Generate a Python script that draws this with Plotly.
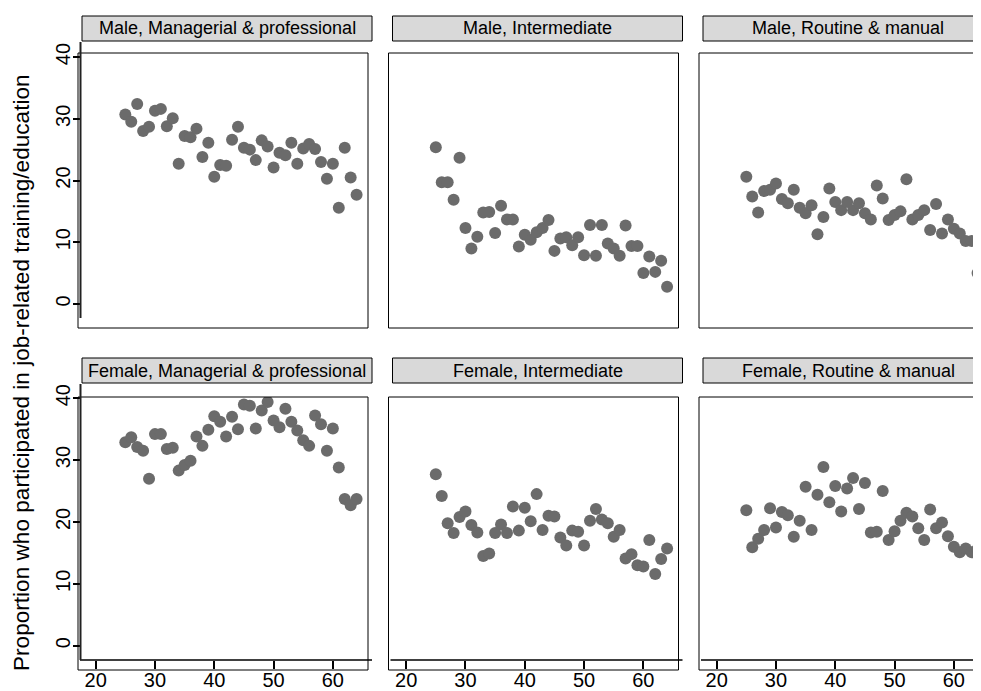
import plotly.graph_objs as go
from plotly.subplots import make_subplots

W, H = 981, 691
OFF = 8  # the page body adds an 8px margin, so the figure is drawn that much smaller

# ages on the x axis, one point per year of age
ages = list(range(25, 65))

male_managerial = [30.7, 29.5, 32.4, 28.0, 28.7, 31.3, 31.6, 28.8, 30.1, 22.7,
                   27.2, 27.0, 28.4, 23.8, 26.1, 20.6, 22.5, 22.4, 26.6, 28.7,
                   25.3, 25.0, 23.3, 26.5, 25.5, 22.1, 24.5, 24.1, 26.1, 22.7,
                   25.2, 25.9, 25.1, 23.0, 20.3, 22.7, 15.6, 25.3, 20.5, 17.7]
male_intermediate = [25.4, 19.7, 19.7, 16.9, 23.7, 12.3, 9.0, 10.9, 14.8, 14.9,
                     11.5, 15.9, 13.7, 13.7, 9.3, 11.2, 10.4, 11.6, 12.3, 13.6,
                     8.6, 10.6, 10.8, 9.5, 10.8, 7.9, 12.8, 7.8, 12.8, 9.8,
                     9.0, 7.8, 12.7, 9.4, 9.4, 5.0, 7.7, 5.2, 7.0, 2.8]
male_routine = [20.6, 17.4, 14.8, 18.3, 18.5, 19.5, 17.0, 16.3, 18.5, 15.6,
                14.7, 16.0, 11.3, 14.1, 18.7, 16.5, 15.2, 16.5, 15.2, 16.3,
                14.7, 13.7, 19.2, 17.1, 13.6, 14.4, 15.0, 20.2, 13.7, 14.4,
                15.2, 12.0, 16.2, 11.4, 13.7, 12.2, 11.4, 10.2, 10.2, 5.0]
female_managerial = [32.9, 33.7, 32.1, 31.5, 27.0, 34.2, 34.2, 31.8, 32.0, 28.3,
                     29.2, 29.9, 33.8, 32.3, 34.9, 37.1, 36.2, 33.8, 37.0, 35.0,
                     39.0, 38.8, 35.1, 38.0, 39.4, 36.4, 35.3, 38.3, 36.2, 34.8,
                     33.2, 32.3, 37.2, 35.8, 31.5, 35.1, 28.8, 23.7, 22.7, 23.7]
female_intermediate = [27.7, 24.2, 19.8, 18.2, 20.8, 21.7, 19.5, 18.3, 14.5, 14.9,
                       18.2, 19.6, 18.2, 22.5, 18.6, 22.3, 20.1, 24.5, 18.7, 21.0,
                       20.9, 17.5, 16.2, 18.6, 18.4, 16.2, 20.2, 22.1, 20.4, 19.8,
                       17.6, 18.7, 14.1, 14.8, 13.0, 12.8, 17.1, 11.6, 14.0, 15.7]
female_routine = [21.9, 15.9, 17.3, 18.7, 22.2, 19.1, 21.6, 21.1, 17.6, 20.2,
                  25.7, 18.7, 24.4, 28.9, 23.2, 25.8, 21.7, 25.4, 27.1, 22.1,
                  26.3, 18.3, 18.4, 25.0, 17.1, 18.5, 20.2, 21.5, 20.9, 19.0,
                  17.1, 22.0, 19.0, 19.9, 17.7, 16.0, 15.1, 15.7, 15.1, 15.6]

panel_titles = ["Male, Managerial & professional", "Male, Intermediate", "Male, Routine & manual",
                "Female, Managerial & professional", "Female, Intermediate", "Female, Routine & manual"]
x_ticks = [20, 30, 40, 50, 60]
y_ticks = [0, 10, 20, 30, 40]
y_title = "Proportion who participated in job-related training/education"

series = [male_managerial, male_intermediate, male_routine,
          female_managerial, female_intermediate, female_routine]

FONT = "Liberation Sans, Arial, sans-serif"
FW, FH = W - OFF, H - OFF


def px(x):
    # window pixel -> paper x
    return (x - OFF) / FW


def py(y):
    # window pixel -> paper y
    return 1 - (y - OFF) / FH


# panel boxes in window pixels
col_left = [78, 388.5, 699]
box_w = 290
row_top = [53, 397]
row_bottom = [328, 670]
strip_top = [16, 358]
x_lo, x_ppu = 17.02, 5.93
y_ranges = [[-3.89, 40.65], [-3.93, 40.2]]
axis_y = 660  # offset x axis line of the bottom row
axis_x = 80.5  # offset y axis line of the left column

fig = make_subplots(rows=2, cols=3)

for i, vals in enumerate(series):
    fig.add_trace(go.Scatter(x=ages, y=vals, mode="markers",
                             marker=dict(color="#6b6b6b", size=12),
                             showlegend=False, hoverinfo="skip"),
                  row=i // 3 + 1, col=i % 3 + 1)

shapes = []
annotations = []
layout_axes = {}
for k in range(6):
    r, c = k // 3, k % 3
    left = col_left[c]
    right = min(left + box_w, W)
    xa = dict(domain=[px(left), px(right)],
              range=[x_lo, x_lo + (right - left) / x_ppu],
              showgrid=False, zeroline=False, showline=False,
              ticks="", showticklabels=False)
    ya = dict(domain=[py(row_bottom[r]), py(row_top[r])], range=y_ranges[r],
              showgrid=False, zeroline=False, showline=False,
              ticks="", showticklabels=False)
    if r == 1:
        xa.update(anchor="free", position=py(axis_y), tickvals=x_ticks,
                  ticks="outside", ticklen=8, tickwidth=1.5, tickcolor="black",
                  ticklabelstandoff=-6,
                  showticklabels=True, tickfont=dict(size=20, color="black", family=FONT))
    if c == 0:
        ya.update(anchor="free", position=px(axis_x), tickvals=y_ticks,
                  ticks="outside", ticklen=8, tickwidth=1.5, tickcolor="black",
                  tickangle=-90, ticklabelstandoff=-5,
                  showticklabels=True, tickfont=dict(size=20, color="black", family=FONT))
    name = "" if k == 0 else str(k + 1)
    layout_axes["xaxis" + name] = xa
    layout_axes["yaxis" + name] = ya

    # panel frame
    shapes.append(dict(type="rect", xref="paper", yref="paper",
                       x0=px(left), x1=px(left + box_w),
                       y0=py(row_bottom[r]), y1=py(row_top[r]),
                       line=dict(color="black", width=1)))
    # strip with the panel title
    s_left = left + 4
    shapes.append(dict(type="rect", xref="paper", yref="paper",
                       x0=px(s_left), x1=px(s_left + box_w),
                       y0=py(strip_top[r] + 25), y1=py(strip_top[r]),
                       fillcolor="#d9d9d9", line=dict(color="black", width=1)))
    annotations.append(dict(text=panel_titles[k], xref="paper", yref="paper",
                            x=px(s_left + box_w / 2), y=py(strip_top[r] + 12.5),
                            xanchor="center", yanchor="middle", showarrow=False,
                            font=dict(size=18, color="black", family=FONT)))
    if r == 1:
        shapes.append(dict(type="line", xref="paper", yref="paper",
                           x0=px(left + 2), x1=px(left + 294),
                           y0=py(axis_y), y1=py(axis_y),
                           line=dict(color="black", width=1.5)))

# left axis lines, drawn a bit apart from the frames
shapes.append(dict(type="line", xref="paper", yref="paper",
                   x0=px(axis_x), x1=px(axis_x), y0=py(318), y1=py(42),
                   line=dict(color="#222222", width=2)))
shapes.append(dict(type="line", xref="paper", yref="paper",
                   x0=px(axis_x), x1=px(axis_x), y0=py(axis_y), y1=py(384),
                   line=dict(color="#222222", width=2)))

annotations.append(dict(text=y_title, xref="paper", yref="paper",
                        x=px(21), y=py(373), textangle=-90,
                        xanchor="center", yanchor="middle", showarrow=False,
                        font=dict(size=22.6, color="black", family=FONT)))

fig.update_layout(template="none", width=FW, height=FH, autosize=False,
                  margin=dict(l=0, r=0, t=0, b=0),
                  paper_bgcolor="white", plot_bgcolor="white",
                  font=dict(family=FONT, color="black"),
                  shapes=shapes, annotations=annotations, **layout_axes)

fig.write_html("out.html")
